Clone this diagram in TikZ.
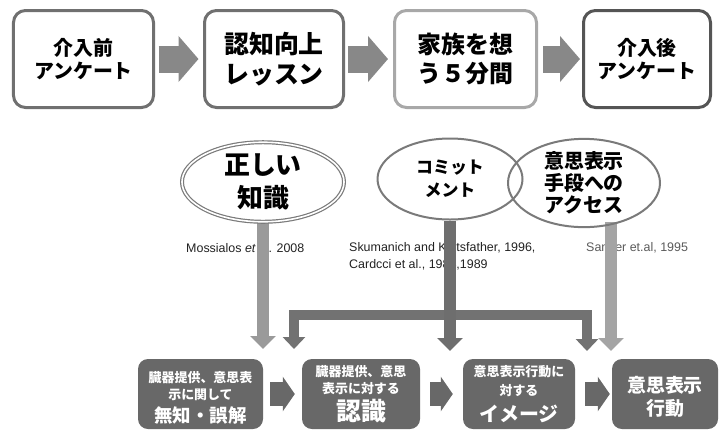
\documentclass[tikz,border=0pt]{standalone}
\usepackage{fontspec}
\setmainfont{Liberation Sans}
\newfontfamily\jp{Noto Sans CJK JP}
\usetikzlibrary{shapes.geometric,arrows.meta}
\pgfdeclarelayer{front}
\pgfsetlayers{main,front}
\definecolor{tbA}{HTML}{707070}
\definecolor{tbC}{HTML}{A8A8A8}
\definecolor{tbD}{HTML}{555555}
\definecolor{tarfill}{HTML}{888888}
\definecolor{ellg}{HTML}{7A7A7A}
\definecolor{bfill}{HTML}{686868}
\definecolor{vaA}{HTML}{9A9A9A}
\definecolor{vaB}{HTML}{6E6E6E}
\definecolor{vaC}{HTML}{727272}
\definecolor{vaD}{HTML}{A4A4A4}
\definecolor{reftext}{HTML}{222222}
\definecolor{reflight}{HTML}{5A5A5A}
\begin{document}
\begin{tikzpicture}[x=1bp,y=-1bp,
  topbox/.style={draw, line width=3bp, rounded corners=12bp, fill=white, align=center, inner sep=0pt, text=black},
  topar/.style={draw=tarfill, line width=27bp, -{Triangle[width=45bp,length=20bp]}},
  botar/.style={draw=bfill, line width=24bp, -{Triangle[width=34bp,length=12bp]}},
  ell/.style={ellipse, inner sep=0pt, align=center, text=black},
  reftxt/.style={font=\fontsize{12.5}{17}\selectfont, text=reftext, inner sep=0pt, anchor=west, align=left},
  varr/.style={line width=12bp, -{Triangle[width=25bp,length=13bp]}},
  bbox/.style={fill=bfill, rounded corners=10bp, minimum height=70bp, inner sep=0pt},
  btxt/.style={text=white, inner sep=0pt},
  jpb/.style={font=\jp\bfseries\fontsize{#1}{#1}\selectfont}
]
\useasboundingbox (0,0) rectangle (719,429);

% top row
\node[topbox, draw=tbA, minimum width=140bp, minimum height=97bp, font=\jp\bfseries\fontsize{20}{23}\selectfont] (A1) at (83.5,59) {介入前\\アンケート};
\node[topbox, draw=tbA, minimum width=139bp, minimum height=97bp, font=\jp\bfseries\fontsize{25}{30}\selectfont] (A2) at (274,59) {認知向上\\レッスン};
\node[topbox, draw=tbC, minimum width=142bp, minimum height=97bp, font=\jp\bfseries\fontsize{24}{30}\selectfont] (A3) at (465.5,59) {家族を想\\う５分間};
\node[topbox, draw=tbD, minimum width=127bp, minimum height=97bp, font=\jp\bfseries\fontsize{20}{23}\selectfont] (A4) at (647,59) {介入後\\アンケート};

\draw[topar, shorten <=3.5bp, shorten >=4.5bp] (A1.east) -- (A2.west);
\draw[topar, shorten <=3bp, shorten >=5bp] (A2.east) -- (A3.west);
\draw[topar, shorten <=5bp, shorten >=2bp] (A3.east) -- (A4.west);

% references
\node[reftxt] (M) at (186,248) {Mossialos \textit{et al}. 2008};
\node[reftxt] (S) at (349,256.5) {Skumanich and Kintsfather, 1996,\\Cardcci et al., 1984,1989};
\node[reftxt, text=reflight] (N) at (586,248) {Sanner et.al, 1995};

% ellipses (front layer)
\begin{pgfonlayer}{front}
\node[ell, minimum width=162bp, minimum height=78bp, draw=ellg, double=white, double distance=1.6bp, line width=1.2bp, font=\jp\bfseries\fontsize{26}{33}\selectfont] (E1) at (263,182) {正しい\\知識};
\node[ell, minimum width=145bp, minimum height=81bp, draw=ellg, line width=2bp, font=\jp\bfseries\fontsize{17}{23}\selectfont] (E2) at (450,179) {コミット\\メント};
\node[ell, minimum width=152bp, minimum height=84bp, draw=ellg, line width=2bp, font=\jp\bfseries\fontsize{20}{22}\selectfont] (E3) at (584,183) {意思表示\\手段への\\アクセス};
\end{pgfonlayer}

% vertical arrows
\coordinate (T1) at (262,349);
\coordinate (T2) at (449,351);
\coordinate (S3) at (611,222);
\coordinate (T3) at (611,351);
\coordinate (TA) at (294,349);
\coordinate (TB) at (587,351);
\coordinate (BAR) at (0,315);
\draw[varr, draw=vaC, line width=10bp, line join=miter, {Triangle[width=22bp,length=12bp]}-{Triangle[width=22bp,length=12bp]}] (TA) -- (TA |- BAR) -- (TB |- BAR) -- (TB);
\draw[varr, draw=vaA] (E1.south) -- (E1.south |- T1);
\draw[varr, draw=vaB] (E2.south) -- (E2.south |- T2);
\draw[varr, draw=vaD] (S3) -- (T3);

% bottom row
\node[bbox, minimum width=125bp] (B1) at (200.5,394) {};
\node[bbox, minimum width=118bp] (B2) at (361,394) {};
\node[bbox, minimum width=112bp] (B3) at (519,394) {};
\node[bbox, minimum width=106bp] (B4) at (665,394) {};

\draw[botar, shorten <=7bp, shorten >=7bp] (B1.east) -- (B2.west);
\draw[botar, shorten <=10bp, shorten >=10bp] (B2.east) -- (B3.west);
\draw[botar, shorten <=10bp, shorten >=2bp] (B3.east) -- (B4.west);

\node[btxt, jpb=13] (B1a) at (200.5,378) {臓器提供、意思表};
\node[btxt, jpb=13] (B1b) at (200.5,395) {示に関して};
\node[btxt, jpb=18.5] (B1c) at (200.5,415) {無知・誤解};

\node[btxt, jpb=13] (B2a) at (361,372) {臓器提供、意思};
\node[btxt, jpb=13] (B2b) at (361,389) {表示に対する};
\node[btxt, jpb=25] (B2c) at (361,411) {認識};

\node[btxt, jpb=13] (B3a) at (519,372) {意思表示行動に};
\node[btxt, jpb=13] (B3b) at (519,391) {対する};
\node[btxt, jpb=20] (B3c) at (519,414) {イメージ};

\node[btxt, jpb=19] (B4a) at (665,385) {意思表示};
\node[btxt, jpb=19] (B4b) at (665,408) {行動};
\end{tikzpicture}
\end{document}
